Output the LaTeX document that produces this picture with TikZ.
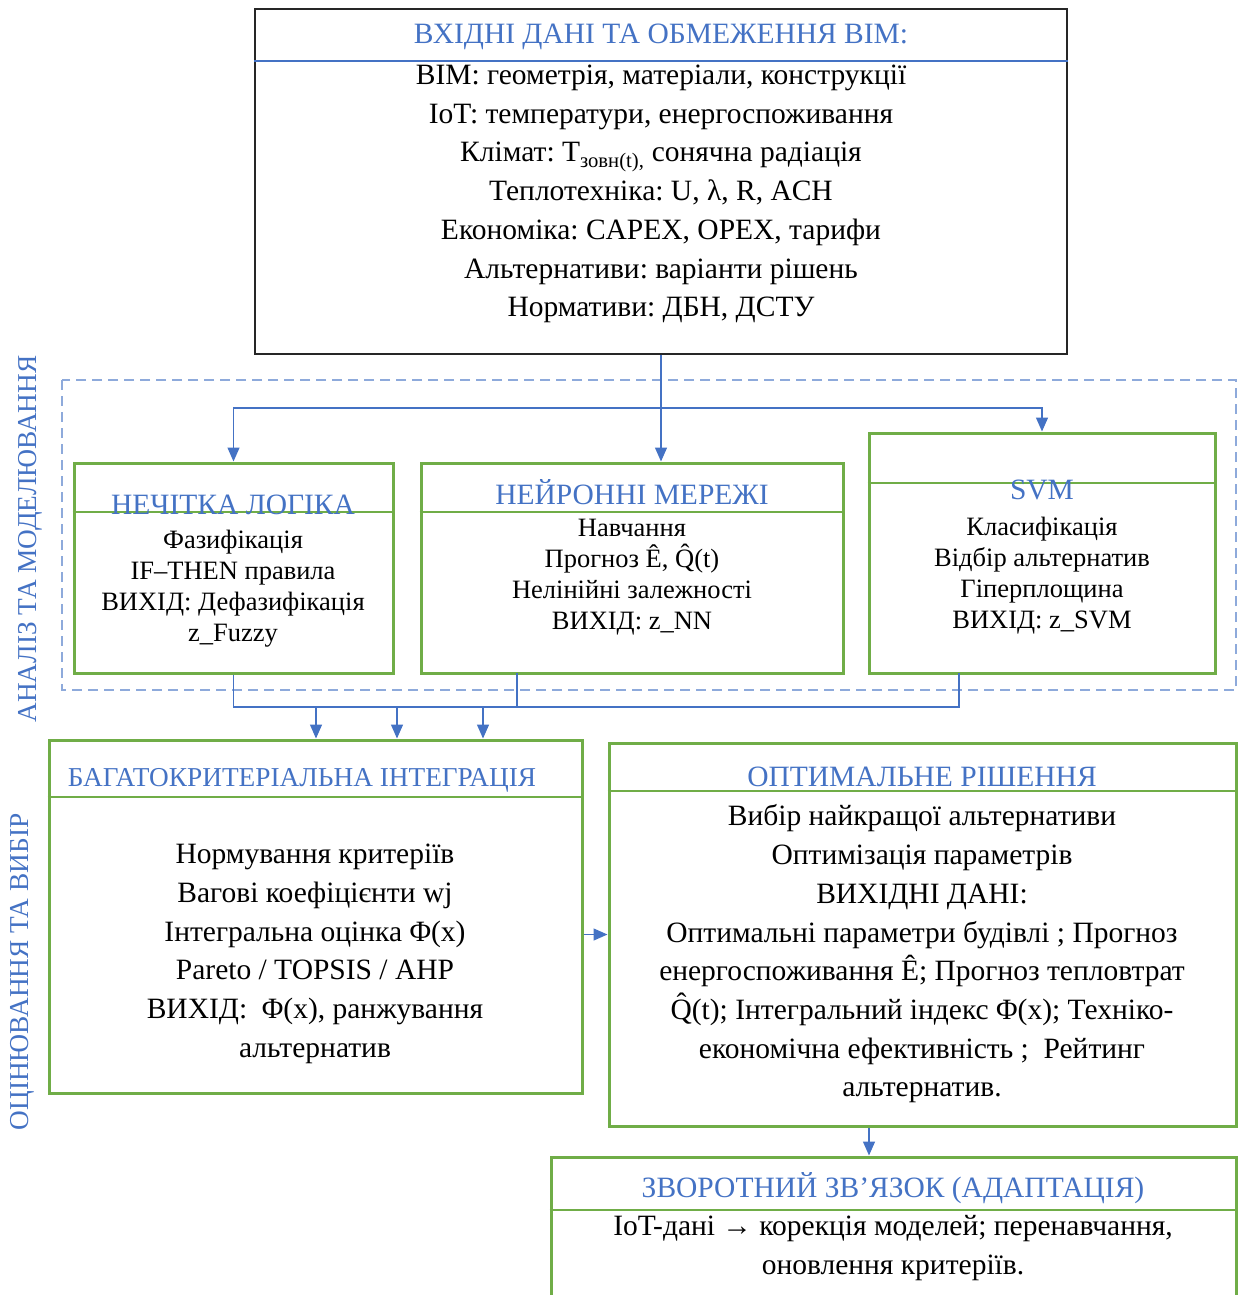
\documentclass[tikz,border=0pt]{standalone}
\usepackage{fontspec}
\setmainfont{Liberation Serif}
\usepackage{xcolor}
\usepackage{tikz}
\usetikzlibrary{arrows.meta,positioning,calc}
\definecolor{accblue}{RGB}{68,114,196}
\definecolor{dashblue}{RGB}{142,170,219}
\definecolor{leafgreen}{RGB}{112,173,71}
\frenchspacing
\tikzset{
  inbox/.style={rectangle,draw=black!85,line width=1.4pt,inner sep=0pt},
  grnbox/.style={rectangle,draw=leafgreen,line width=3pt,inner sep=0pt},
  sepline/.style={line width=1.2pt},
  ttl/.style={inner sep=0pt,text=accblue,font=\fontsize{29.5}{38.7}\selectfont},
  txt/.style={inner sep=0pt,align=center,font=\fontsize{29.5}{38.7}\selectfont},
  stxt/.style={inner sep=0pt,align=center,font=\fontsize{26.5}{31}\selectfont},
  sidelbl/.style={inner sep=0pt,rotate=90,text=accblue,font=\fontsize{27.3}{34}\selectfont},
  link/.style={draw=accblue,line width=1.4pt},
  flow/.style={draw=accblue,line width=1.4pt,-{Triangle[length=14pt,width=12pt]}},
  grp/.style={draw=dashblue,line width=2.2pt,dash pattern=on 10pt off 6pt},
}
\begin{document}
\begin{tikzpicture}[x=1pt,y=-1pt]
  \useasboundingbox (0,0) rectangle (1243,1295);

  \draw[grp] (62,380) rectangle (1236,690);
  \node[sidelbl] (lblan) at (30,539) {АНАЛІЗ ТА МОДЕЛЮВАННЯ};
  \node[sidelbl] (lblev) at (22,972) {ОЦІНЮВАННЯ ТА ВИБІР};

  \node[inbox,minimum width=812,minimum height=345] (inp) at (661,181.5) {};
  \draw[sepline,accblue] (inp.west |- 0,61) -- (inp.east |- 0,61);
  \node[ttl] (inpttl) at (661,37) {ВХІДНІ ДАНІ ТА ОБМЕЖЕННЯ ВІМ:};
  \node[txt] (inpbody) at (661,194) {BIM: геометрія, матеріали, конструкції\\
    IoT: температури, енергоспоживання\\
    Клімат: T\textsubscript{зовн(t),} сонячна радіація\\
    Теплотехніка: U, λ, R, ACH\\
    Економіка: CAPEX, OPEX, тарифи\\
    Альтернативи: варіанти рішень\\
    Нормативи: ДБН, ДСТУ};

  \node[grnbox,minimum width=319,minimum height=210] (fuzzy) at (233.5,568) {};
  \draw[sepline,leafgreen] (fuzzy.west |- 0,512) -- (fuzzy.east |- 0,512);
  \node[ttl] (fuzzyttl) at (233,505) {НЕЧІТКА ЛОГІКА};
  \node[stxt] (fuzzybody) at (233,589) {Фазифікація\\IF–THEN правила\\ВИХІД: Дефазифікація\\z\_Fuzzy};

  \node[grnbox,minimum width=422,minimum height=210] (neural) at (632,568) {};
  \draw[sepline,leafgreen] (neural.west |- 0,512) -- (neural.east |- 0,512);
  \node[ttl] (neuralttl) at (632,492) {НЕЙРОННІ МЕРЕЖІ};
  \node[stxt] (neuralbody) at (632,577) {Навчання\\Прогноз Ê, Q̂(t)\\Нелінійні залежності\\ВИХІД: z\_NN};

  \node[grnbox,minimum width=346,minimum height=240] (svm) at (1042,553) {};
  \draw[sepline,leafgreen] (svm.west |- 0,483) -- (svm.east |- 0,483);
  \node[ttl] (svmttl) at (1042,490) {SVM};
  \node[stxt] (svmbody) at (1042,575.5) {Класифікація\\Відбір альтернатив\\Гіперплощина\\ВИХІД: z\_SVM};

  \node[grnbox,minimum width=533,minimum height=353] (integ) at (315.5,916.5) {};
  \draw[sepline,leafgreen] (integ.west |- 0,797) -- (integ.east |- 0,797);
  \node[ttl,font=\fontsize{27.3}{34}\selectfont] (integttl) at (302,780) {БАГАТОКРИТЕРІАЛЬНА ІНТЕГРАЦІЯ};
  \node[txt] (integbody) at (315,954) {Нормування критеріїв\\
    Вагові коефіцієнти wj\\
    Інтегральна оцінка Φ(x)\\
    Pareto / TOPSIS / AHP\\
    ВИХІД:\ \ Φ(x), ранжування\\
    альтернатив};

  \node[grnbox,minimum width=627,minimum height=383] (optim) at (922.5,934.5) {};
  \draw[sepline,leafgreen] (optim.west |- 0,791) -- (optim.east |- 0,791);
  \node[ttl] (optimttl) at (922,777) {ОПТИМАЛЬНЕ РІШЕННЯ};
  \node[txt] (optimbody) at (922,954) {Вибір найкращої альтернативи\\
    Оптимізація параметрів\\
    ВИХІДНІ ДАНІ:\\
    Оптимальні параметри будівлі ; Прогноз\\
    енергоспоживання Ê; Прогноз тепловтрат\\
    Q̂(t); Інтегральний індекс Φ(x); Техніко-\\
    економічна ефективність ;\ \ Рейтинг\\
    альтернатив.};

  \node[grnbox,minimum width=685,minimum height=163] (feedb) at (893.5,1238.5) {};
  \draw[sepline,leafgreen] (feedb.west |- 0,1210) -- (feedb.east |- 0,1210);
  \node[ttl] (feedbttl) at (893,1188) {ЗВОРОТНИЙ ЗВ’ЯЗОК (АДАПТАЦІЯ)};
  \node[txt] (feedbbody) at (893,1248) {IoT-дані → корекція моделей; перенавчання,\\оновлення критеріїв.};

  \coordinate (split) at (inp.south |- 0,408);
  \draw[flow] (inp.south) -- (inp.south |- neural.north);
  \draw[flow] (split) -| (fuzzy.north);
  \draw[flow] (split) -| (svm.north);

  \coordinate (nnout) at (517,673);
  \coordinate (svmout) at (959,673);
  \draw[link] (fuzzy.south) |- (svmout |- 0,707) -- (svmout);
  \draw[link] (nnout) -- (nnout |- 0,707);
  \foreach \x [count=\i] in {316,397,483}{
    \coordinate (mrg\i) at (\x,707);
    \draw[flow] (mrg\i) -- (mrg\i |- integ.north);
  }

  \draw[flow] (integ.east |- optim.west) -- (optim.west);
  \draw[flow] (869,0 |- optim.south) -- (869,0 |- feedb.north);
\end{tikzpicture}
\end{document}
